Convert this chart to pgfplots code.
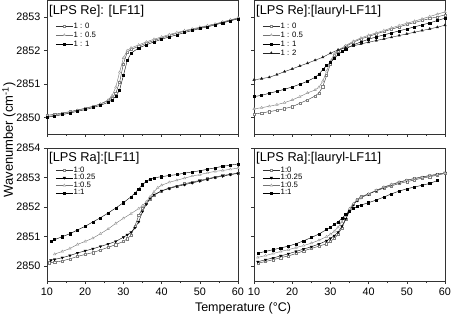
\documentclass[border=0pt]{standalone}
\usepackage{fontspec}
\setmainfont{Liberation Sans}
\usepackage{pgfplots}
\pgfplotsset{compat=1.18}
\tikzset{ptitle/.style={anchor=north west, inner sep=0pt, font=\fontsize{12.8}{14}\selectfont}}
\pgfplotsset{
  panel/.style={scale only axis, width=191pt, xmin=10, xmax=60,
    xtick={10,20,...,60}, minor x tick num=1, ytick={2850,...,2854},
    tick align=outside, tick pos=left, major tick length=3pt, minor tick length=2pt,
    scaled ticks=false, /pgf/number format/1000 sep={}, /pgf/number format/assume math mode=true,
    ticklabel style={font=\fontsize{10.8}{12}\selectfont},
    axis line style={line width=0.6pt, black!80},
    every tick/.style={black!80, line width=0.5pt},
    legend cell align=left,
    legend style={anchor=north west, draw=none, fill=none, inner sep=0pt, outer sep=0pt,
      font=\fontsize{7.8}{8}\selectfont,
      nodes={inner sep=0.6pt, text height=5.6pt, text depth=1.6pt}, row sep=0.6pt},
  },
  toppanel/.style={panel, height=133.5pt, ymin=2849.5, ymax=2853.5, xticklabels={},
    legend style={at={(rel axis cs:0.045,0.84)}}},
  botpanel/.style={panel, height=133pt, ymin=2849.5, ymax=2854,
    legend style={at={(rel axis cs:0.045,0.865)}, row sep=-0.8pt}},
  sZero/.style={black!80, line width=0.4pt, mark=square*, mark size=1.1pt, mark options={fill=white, draw=gray, line width=0.4pt}},
  sHalf/.style={gray!90!black, line width=0.4pt, mark=triangle*, mark size=1.4pt, mark options={fill=white, draw=gray!80, line width=0.4pt}},
  sQuart/.style={black, line width=0.4pt, mark=triangle*, mark size=1.4pt, mark options={fill=black, rotate=180}},
  sOne/.style={black, line width=0.4pt, mark=square*, mark size=1.05pt, mark options={fill=black}},
  sTwo/.style={black!85, line width=0.4pt, mark=triangle*, mark size=1.4pt, mark options={fill=black}},
}
\begin{document}
\begin{tikzpicture}
\useasboundingbox (0,0) rectangle (452pt,317pt);
% ---------------- top left
\begin{axis}[toppanel, at={(47pt,183pt)}, anchor=south west]
\addplot[sZero] table {
10 2850.06
12 2850.09
14 2850.13
16 2850.17
18 2850.22
20 2850.27
22 2850.33
24 2850.40
26 2850.50
27 2850.58
28 2850.72
29 2851.05
30 2851.60
31 2851.95
32 2852.03
34 2852.13
36 2852.22
38 2852.30
40 2852.38
42 2852.45
44 2852.52
46 2852.58
48 2852.63
50 2852.68
52 2852.74
54 2852.79
56 2852.85
58 2852.91
60 2852.97
};
\addlegendentry{1 : 0}
\addplot[sHalf] table {
10 2850.02
12 2850.06
14 2850.11
16 2850.16
18 2850.21
20 2850.26
22 2850.32
24 2850.40
26 2850.52
27 2850.64
28 2850.90
29 2851.35
30 2851.78
31 2852.00
32 2852.08
34 2852.17
36 2852.26
38 2852.34
40 2852.41
42 2852.48
44 2852.54
46 2852.60
48 2852.65
50 2852.70
52 2852.75
54 2852.80
56 2852.86
58 2852.92
60 2852.98
};
\addlegendentry{1 : 0.5}
\addplot[sOne] table {
10 2850.00
12 2850.04
14 2850.08
16 2850.13
18 2850.18
20 2850.23
22 2850.29
24 2850.36
26 2850.45
27 2850.52
28 2850.62
29 2850.82
30 2851.25
31 2851.70
32 2851.92
34 2852.08
36 2852.17
38 2852.26
40 2852.34
42 2852.41
44 2852.47
46 2852.54
48 2852.60
50 2852.66
52 2852.71
54 2852.77
56 2852.83
58 2852.89
60 2852.95
};
\addlegendentry{1 : 1}
\node[ptitle] at (rel axis cs:0,1) [xshift=2pt, yshift=-5pt] {[LPS Re]: [LF11]};
\end{axis}
% ---------------- top right
\begin{axis}[toppanel, at={(254pt,183pt)}, anchor=south west, yticklabels={}]
\addplot[sZero] table {
10 2850.10
12 2850.13
14 2850.17
16 2850.21
18 2850.26
20 2850.32
22 2850.42
24 2850.52
26 2850.64
27 2850.73
28 2850.92
29 2851.25
30 2851.60
31 2851.85
32 2851.98
34 2852.12
36 2852.25
38 2852.35
40 2852.42
42 2852.50
44 2852.57
46 2852.64
48 2852.71
50 2852.78
52 2852.84
54 2852.90
56 2852.96
58 2853.01
60 2853.07
};
\addlegendentry{1 : 0}
\addplot[sHalf] table {
10 2850.25
12 2850.29
14 2850.33
16 2850.38
18 2850.44
20 2850.52
22 2850.62
24 2850.73
26 2850.82
27 2850.90
28 2851.08
29 2851.38
30 2851.68
31 2851.90
32 2852.01
34 2852.15
36 2852.28
38 2852.38
40 2852.46
42 2852.53
44 2852.60
46 2852.68
48 2852.75
50 2852.82
52 2852.88
54 2852.95
56 2853.02
58 2853.09
60 2853.16
};
\addlegendentry{1 : 0.5}
\addplot[sOne] table {
10 2850.62
12 2850.66
14 2850.72
16 2850.78
18 2850.84
20 2850.91
22 2850.99
24 2851.08
26 2851.20
27 2851.29
28 2851.43
29 2851.55
30 2851.64
31 2851.76
32 2851.88
33 2851.97
34 2852.05
36 2852.17
38 2852.26
40 2852.34
42 2852.41
44 2852.47
46 2852.53
48 2852.59
50 2852.65
52 2852.71
54 2852.77
56 2852.83
58 2852.90
60 2852.97
};
\addlegendentry{1 : 1}
\addplot[sTwo] table {
10 2851.12
12 2851.16
14 2851.20
16 2851.28
18 2851.37
20 2851.45
22 2851.54
24 2851.62
26 2851.71
28 2851.80
30 2851.92
32 2852.02
34 2852.09
36 2852.14
38 2852.20
40 2852.25
42 2852.30
44 2852.35
46 2852.40
48 2852.45
50 2852.50
52 2852.55
54 2852.60
56 2852.65
58 2852.70
60 2852.76
};
\addlegendentry{1 : 2}
\node[ptitle] at (rel axis cs:0,1) [xshift=2pt, yshift=-5pt] {[LPS Re]:[lauryl-LF11]};
\end{axis}
% ---------------- bottom left
\begin{axis}[botpanel, at={(47pt,36pt)}, anchor=south west]
\addplot[sZero] table {
10.5 2850.12
12 2850.14
14 2850.18
16 2850.25
18 2850.33
20 2850.40
22 2850.46
24 2850.55
26 2850.64
28 2850.73
30 2850.84
31 2850.93
32 2851.05
33 2851.35
34 2851.72
35 2851.95
36 2852.12
37 2852.28
38 2852.40
40 2852.55
42 2852.65
44 2852.72
46 2852.79
48 2852.85
50 2852.90
52 2852.96
54 2853.02
56 2853.07
58 2853.11
60 2853.15
};
\addlegendentry{1:0}
\addplot[sQuart] table {
11 2850.20
12 2850.23
14 2850.29
16 2850.36
18 2850.45
20 2850.52
22 2850.59
24 2850.67
26 2850.75
28 2850.84
30 2850.98
31 2851.06
32 2851.15
33 2851.30
34 2851.50
35 2851.85
36 2852.10
37 2852.30
38 2852.42
40 2852.55
42 2852.63
44 2852.70
46 2852.76
48 2852.82
50 2852.88
52 2852.94
54 2853.00
56 2853.05
58 2853.10
60 2853.14
};
\addlegendentry{1:0.25}
\addplot[sHalf] table {
12 2850.41
14 2850.50
16 2850.60
18 2850.74
20 2850.84
22 2850.95
24 2851.10
26 2851.26
28 2851.45
30 2851.62
32 2851.78
34 2851.95
35 2852.05
36 2852.18
37 2852.35
38 2852.52
39 2852.66
40 2852.74
42 2852.84
44 2852.91
46 2852.98
48 2853.05
50 2853.10
52 2853.16
54 2853.21
56 2853.24
58 2853.28
60 2853.32
};
\addlegendentry{1:0.5}
\addplot[sOne] table {
11 2850.85
12 2850.90
14 2851.00
16 2851.10
18 2851.23
20 2851.35
22 2851.50
24 2851.64
26 2851.80
28 2851.97
30 2852.15
32 2852.35
33 2852.47
34 2852.62
35 2852.76
36 2852.87
37 2852.95
38 2852.99
40 2853.03
42 2853.07
44 2853.10
46 2853.15
48 2853.19
50 2853.23
52 2853.28
54 2853.33
56 2853.38
58 2853.42
60 2853.46
};
\addlegendentry{1:1}
\node[ptitle] at (rel axis cs:0,1) [xshift=2pt, yshift=-4pt] {[LPS Ra]:[LF11]};
\end{axis}
% ---------------- bottom right
\begin{axis}[botpanel, at={(254pt,36pt)}, anchor=south west, yticklabels={}]
\addplot[sZero] table {
11 2850.10
13 2850.16
15 2850.22
17 2850.29
19 2850.35
21 2850.43
23 2850.52
25 2850.60
27 2850.68
29 2850.76
30 2850.84
31 2850.94
32 2851.08
33 2851.30
34 2851.58
35 2851.88
36 2852.10
37 2852.25
38 2852.35
40 2852.45
42 2852.55
44 2852.64
46 2852.72
48 2852.80
50 2852.86
52 2852.92
54 2852.98
56 2853.03
58 2853.08
60 2853.14
};
\addlegendentry{1:0}
\addplot[sQuart] table {
11 2850.15
13 2850.22
15 2850.28
17 2850.35
19 2850.42
21 2850.50
23 2850.58
25 2850.66
27 2850.75
29 2850.86
30 2850.94
31 2851.03
32 2851.15
33 2851.35
34 2851.60
35 2851.87
36 2852.08
37 2852.22
38 2852.32
40 2852.44
42 2852.56
44 2852.67
46 2852.76
48 2852.84
50 2852.91
52 2852.97
54 2853.02
56 2853.07
58 2853.11
60 2853.16
};
\addlegendentry{1:0.25}
\addplot[sHalf] table {
11 2850.30
13 2850.36
15 2850.43
17 2850.50
19 2850.56
21 2850.63
23 2850.70
25 2850.78
27 2850.88
29 2851.00
30 2851.08
31 2851.18
32 2851.32
33 2851.50
34 2851.72
35 2851.95
36 2852.12
37 2852.24
38 2852.32
40 2852.45
42 2852.57
44 2852.68
46 2852.77
48 2852.85
50 2852.91
52 2852.96
54 2853.01
56 2853.06
58 2853.10
60 2853.15
};
\addlegendentry{1:0.5}
\addplot[sOne] table {
11 2850.44
13 2850.50
15 2850.56
17 2850.62
19 2850.68
21 2850.76
23 2850.86
25 2850.97
27 2851.09
29 2851.24
30 2851.32
31 2851.41
32 2851.50
33 2851.62
34 2851.75
35 2851.86
36 2851.95
37 2852.02
38 2852.07
40 2852.15
42 2852.24
44 2852.34
46 2852.45
48 2852.54
50 2852.62
52 2852.68
54 2852.74
56 2852.80
58 2852.90
};
\addlegendentry{1:1}
\node[ptitle] at (rel axis cs:0,1) [xshift=2pt, yshift=-4pt] {[LPS Ra]:[lauryl-LF11]};
\end{axis}
\node[rotate=90, font=\fontsize{13}{14}\selectfont] at (9pt,177pt) {Wavenumber (cm\textsuperscript{-1})};
\node[font=\fontsize{12.5}{14}\selectfont] at (243pt,9pt) {Temperature (°C)};
\end{tikzpicture}
\end{document}
